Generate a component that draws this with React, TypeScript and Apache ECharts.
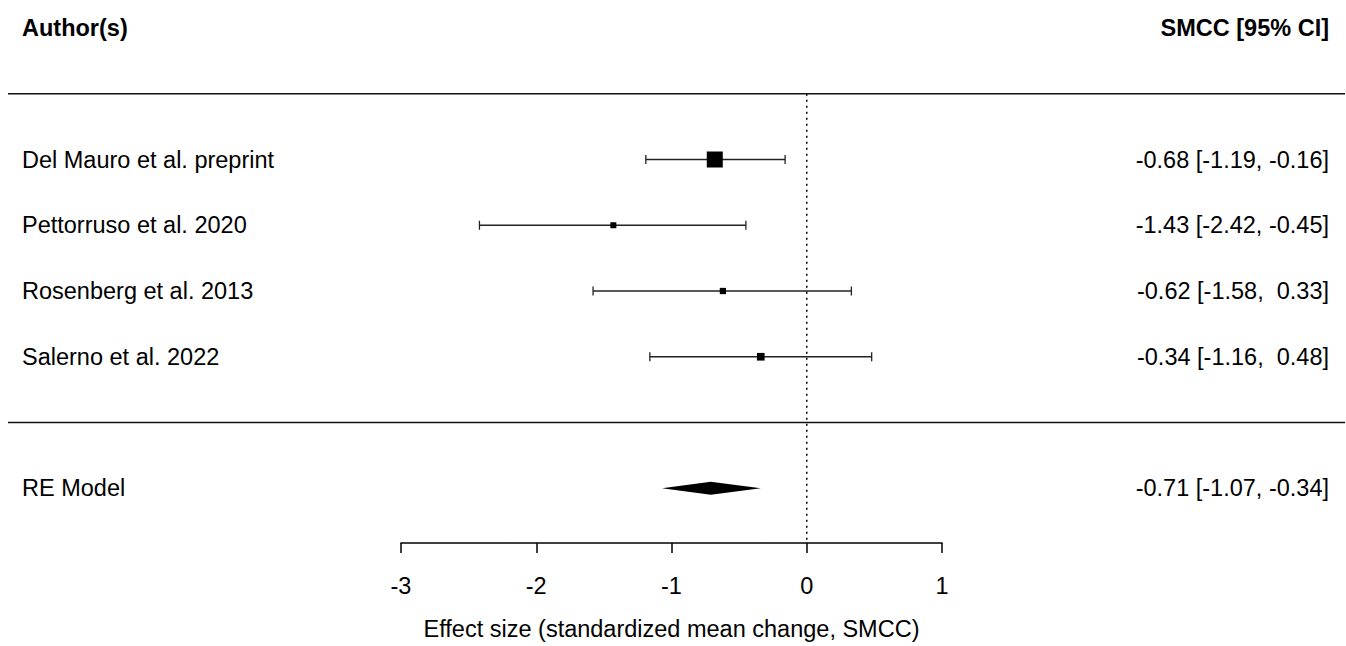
import React, { useEffect, useRef } from "react";
import * as echarts from "echarts";

const studies = [
  "Del Mauro et al. preprint",
  "Pettorruso et al. 2020",
  "Rosenberg et al. 2013",
  "Salerno et al. 2022",
];
const estimates = [-0.68, -1.43, -0.62, -0.34];
const lowers = [-1.19, -2.42, -1.58, -1.16];
const uppers = [-0.16, -0.45, 0.33, 0.48];
const weights = [51.1, 13.9, 14.9, 20.1];

const modelLabel = "RE Model";
const modelEst = -0.71;
const modelLower = -1.07;
const modelUpper = -0.34;

const xTicks = [-3, -2, -1, 0, 1];
const xTitle = "Effect size (standardized mean change, SMCC)";
const headerLeft = "Author(s)";
const headerRight = "SMCC [95% CI]";

const FONT = "'Liberation Sans', Arial, Helvetica, sans-serif";
const FS = 23.5;

function fmt(v: number) {
  const s = v.toFixed(2);
  return v >= 0 ? " " + s : s;
}
function ciText(e: number, l: number, u: number) {
  return `${e.toFixed(2)} [${l.toFixed(2)}, ${fmt(u)}]`;
}

export default function App() {
  const ref = useRef<HTMLDivElement>(null);
  useEffect(() => {
    document.body.style.margin = "0";
    document.body.style.overflow = "hidden";
    document.documentElement.style.overflow = "hidden";
    if (!ref.current) return;
    const chart = echarts.init(ref.current, undefined, { renderer: "svg" });
    const W = 1346;
    const LEFT_X = 22;
    const RIGHT_X = 1329;
    const minW = Math.min(...weights);
    const maxW = Math.max(...weights);
    const studyData = studies.map((s, i) => [
      i + 2,
      estimates[i],
      lowers[i],
      uppers[i],
      6 + ((weights[i] - minW) / (maxW - minW)) * 10,
    ]);

    const textStyle = (x: number, y: number, text: string, align: string, bold = false) => ({
      type: "text",
      style: {
        x,
        y,
        text,
        font: `${bold ? "bold " : ""}${FS}px ${FONT}`,
        fill: "#000",
        textAlign: align,
        textVerticalAlign: "middle",
        verticalAlign: "middle",
      },
    });

    const option: any = {
      animation: false,
      grid: { left: 401, width: 541, top: 28, height: 534 },
      xAxis: {
        type: "value",
        min: -3,
        max: 1,
        interval: 1,
        offset: -11,
        splitLine: { show: false },
        axisLine: { show: true, onZero: false, lineStyle: { color: "#000", width: 1.5 } },
        axisTick: { show: true, length: 10, lineStyle: { color: "#000", width: 1.5 } },
        axisLabel: {
          color: "#000",
          fontSize: FS,
          fontFamily: FONT,
          margin: 31,
          formatter: (v: number) => (xTicks.includes(v) ? String(v) : ""),
        },
        name: xTitle,
        nameLocation: "middle",
        nameGap: 74,
        nameTextStyle: { color: "#000", fontSize: FS, fontFamily: FONT },
      },
      yAxis: {
        type: "value",
        min: 0,
        max: 8,
        interval: 1,
        inverse: true,
        show: false,
      },
      series: [
        {
          type: "line",
          data: [
            [0, 1],
            [0, 7.834],
          ],
          symbol: "none",
          lineStyle: { color: "#000", width: 1.5, type: [2, 4] },
          silent: true,
        },
        {
          type: "custom",
          clip: false,
          data: [[0], [1], [6]],
          renderItem: (params: any, api: any) => {
            const row = api.value(0);
            const y = api.coord([0, row])[1];
            if (row === 0) {
              return {
                type: "group",
                children: [
                  textStyle(LEFT_X, y, headerLeft, "left", true),
                  textStyle(RIGHT_X, y, headerRight, "right", true),
                ],
              };
            }
            return {
              type: "line",
              shape: { x1: 8, y1: y, x2: W - 1, y2: y },
              style: { stroke: "#111", lineWidth: 1.6 },
            };
          },
        },
        {
          type: "custom",
          clip: false,
          data: studyData,
          renderItem: (params: any, api: any) => {
            const row = api.value(0);
            const e = api.value(1);
            const l = api.value(2);
            const u = api.value(3);
            const sz = api.value(4);
            const [xe, y] = api.coord([e, row]);
            const xl = api.coord([l, row])[0];
            const xu = api.coord([u, row])[0];
            const i = params.dataIndex;
            return {
              type: "group",
              children: [
                {
                  type: "line",
                  shape: { x1: xl, y1: y, x2: xu, y2: y },
                  style: { stroke: "#222", lineWidth: 1.3 },
                },
                {
                  type: "line",
                  shape: { x1: xl, y1: y - 4.5, x2: xl, y2: y + 4.5 },
                  style: { stroke: "#222", lineWidth: 1.3 },
                },
                {
                  type: "line",
                  shape: { x1: xu, y1: y - 4.5, x2: xu, y2: y + 4.5 },
                  style: { stroke: "#222", lineWidth: 1.3 },
                },
                {
                  type: "rect",
                  shape: { x: xe - sz / 2, y: y - sz / 2, width: sz, height: sz },
                  style: { fill: "#000" },
                },
                textStyle(LEFT_X, y, studies[i], "left"),
                textStyle(RIGHT_X, y, ciText(e, l, u), "right"),
              ],
            };
          },
        },
        {
          type: "custom",
          clip: false,
          data: [[7, modelEst, modelLower, modelUpper]],
          renderItem: (params: any, api: any) => {
            const row = api.value(0);
            const e = api.value(1);
            const l = api.value(2);
            const u = api.value(3);
            const [xe, y] = api.coord([e, row]);
            const xl = api.coord([l, row])[0];
            const xu = api.coord([u, row])[0];
            const h = 6.5;
            return {
              type: "group",
              children: [
                {
                  type: "polygon",
                  shape: {
                    points: [
                      [xl, y],
                      [xe, y - h],
                      [xu, y],
                      [xe, y + h],
                    ],
                  },
                  style: { fill: "#000" },
                },
                textStyle(LEFT_X, y, modelLabel, "left"),
                textStyle(RIGHT_X, y, ciText(e, l, u), "right"),
              ],
            };
          },
        },
      ],
    };
    chart.setOption(option);
    return () => chart.dispose();
  }, []);
  return (
    <div
      ref={ref}
      style={{ width: 1346, height: 646, overflow: "hidden", position: "absolute", left: 0, top: 0 }}
    />
  );
}
